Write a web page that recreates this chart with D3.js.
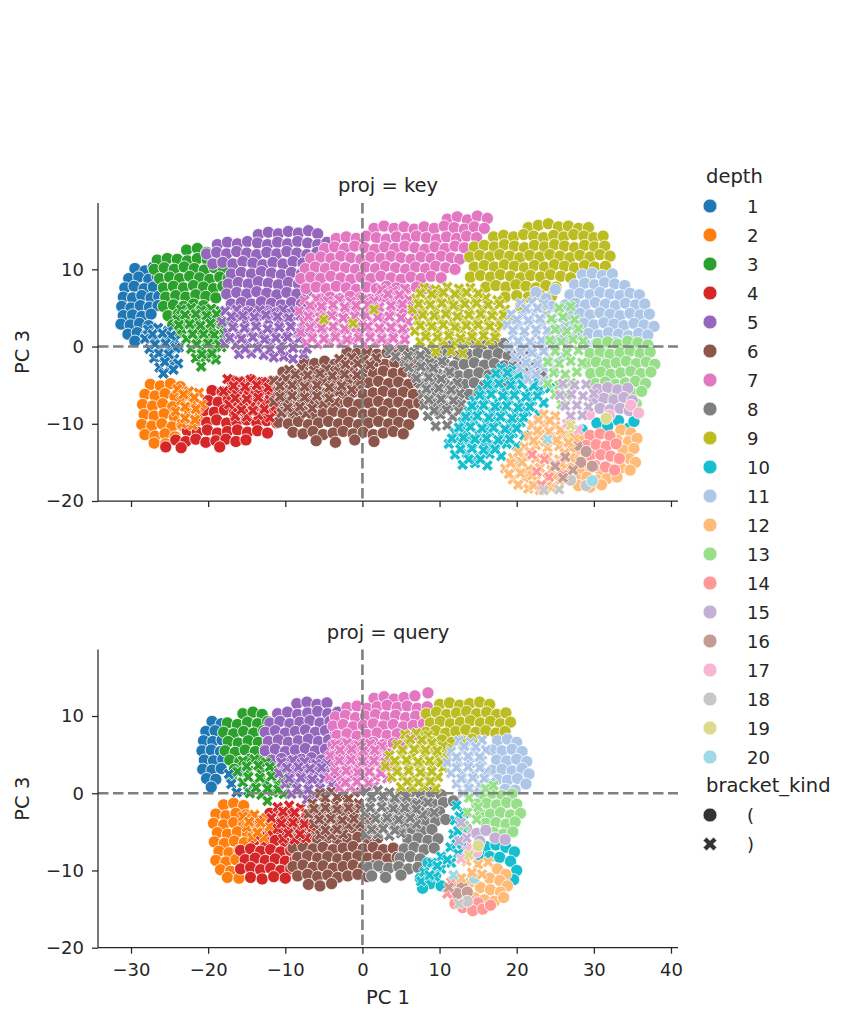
<!DOCTYPE html>
<html>
<head>
<meta charset="utf-8">
<script src="https://cdn.jsdelivr.net/npm/d3@7/dist/d3.min.js"></script>
<style>
body { margin: 0; background: #fff; }
text { font-family: "DejaVu Sans", sans-serif; fill: #262626; }
</style>
</head>
<body>
<svg id="chart" width="852" height="1022"></svg>
<script>
// categories
var depthLabels = ['1','2','3','4','5','6','7','8','9','10','11','12','13','14','15','16','17','18','19','20'];
var bracketKinds = ['(', ')'];
var palette = ['#1f77b4','#ff7f0e','#2ca02c','#d62728','#9467bd','#8c564b','#e377c2','#7f7f7f','#bcbd22','#17becf',
               '#aec7e8','#ffbb78','#98df8a','#ff9896','#c5b0d5','#c49c94','#f7b6d2','#c7c7c7','#dbdb8d','#9edae5'];
var xTicks = [-30, -20, -10, 0, 10, 20, 30, 40];
var yTicks = [-20, -10, 0, 10];

// points "PC1,PC3" per depth (index 0 = depth 1), bracket_kind "(" = open, ")" = close
var keyOpen = [
"-29.5,10.1 -28.2,9.8 -27.1,10.3 -30.3,8.8 -29.0,9.0 -27.7,8.7 -26.6,9.1 -30.8,7.6 -29.6,7.8 -28.3,7.5 -27.1,7.7 -31.0,6.4 -29.8,6.3 -28.6,6.6 -27.4,6.3 -26.4,6.5 -31.2,5.2 -30.0,5.0 -28.8,5.3 -27.6,5.1 -26.5,5.3 -31.0,4.0 -29.8,4.1 -28.6,3.9 -27.4,4.2 -31.3,2.9 -30.1,2.8 -28.9,3.0 -27.7,2.7 -30.4,1.6 -29.2,1.8 -28.0,1.5 -29.5,0.7",
"-27.5,-4.9 -26.2,-5.1 -24.9,-4.8 -23.6,-5.2 -28.2,-6.2 -26.9,-6.4 -25.6,-6.1 -24.3,-6.5 -23.0,-6.3 -28.5,-7.5 -27.2,-7.7 -25.9,-7.4 -24.6,-7.8 -28.3,-8.8 -27.0,-9.0 -25.7,-8.7 -24.4,-9.1 -28.6,-10.1 -27.3,-10.3 -26.0,-10.0 -24.7,-10.4 -23.4,-10.2 -28.2,-11.4 -26.9,-11.6 -25.6,-11.3 -24.3,-11.7 -27.0,-12.5 -25.5,-12.6",
"-22.8,12.5 -21.4,12.7 -20.2,12.2 -26.6,11.2 -25.3,11.4 -24.0,11.3 -22.7,11.1 -21.4,11.4 -20.1,11.2 -18.9,11.0 -27.0,10.0 -25.7,10.2 -24.4,10.0 -23.1,10.3 -21.8,10.1 -20.5,9.9 -19.2,10.2 -18.0,10.0 -26.3,8.8 -25.0,9.0 -23.7,8.8 -22.4,9.1 -21.1,8.9 -19.8,8.7 -18.5,9.0 -17.4,8.8 -25.8,7.6 -24.5,7.8 -23.2,7.6 -21.9,7.9 -20.6,7.7 -19.3,7.5 -18.1,7.8 -25.5,6.4 -24.2,6.6 -22.9,6.4 -21.6,6.7 -20.3,6.5 -19.0,6.3 -25.8,5.2 -24.5,5.4 -23.2,5.2 -21.9,5.5 -20.6,5.3 -25.2,4.0 -23.9,4.2 -22.6,4.0 -21.3,4.3 -24.6,2.8 -23.3,3.0 -22.0,2.7 -23.8,1.8",
"-17.0,-4.4 -15.7,-4.6 -14.4,-4.3 -13.1,-4.7 -11.8,-4.5 -19.5,-5.7 -18.2,-5.9 -16.9,-5.6 -15.6,-6.0 -14.3,-5.8 -13.0,-5.6 -11.7,-5.9 -10.5,-5.7 -20.0,-7.0 -18.7,-7.2 -17.4,-6.9 -16.1,-7.3 -14.8,-7.1 -13.5,-6.9 -12.2,-7.2 -10.9,-7.0 -20.5,-8.3 -19.2,-8.5 -17.9,-8.2 -16.6,-8.6 -15.3,-8.4 -14.0,-8.2 -12.7,-8.5 -11.4,-8.3 -10.2,-8.6 -21.5,-9.6 -20.2,-9.8 -18.9,-9.5 -17.6,-9.9 -16.3,-9.7 -15.0,-9.5 -13.7,-9.8 -12.4,-9.6 -11.1,-9.9 -22.7,-10.9 -21.4,-11.1 -20.1,-10.8 -18.8,-11.2 -17.5,-11.0 -16.2,-10.8 -14.9,-11.1 -13.6,-10.9 -12.3,-11.2 -24.2,-12.1 -22.9,-12.3 -21.6,-12.0 -20.3,-12.4 -19.0,-12.2 -17.7,-12.0 -16.4,-12.3 -15.1,-12.1 -25.5,-13.0 -23.5,-13.1 -18.5,-13.0",
"-13.5,14.5 -12.2,14.8 -10.9,14.6 -9.6,14.9 -8.3,14.7 -7.0,15.0 -5.8,14.6 -18.8,13.2 -17.5,13.5 -16.2,13.3 -14.9,13.6 -13.6,13.4 -12.3,13.2 -11.0,13.5 -9.7,13.3 -8.4,13.6 -7.1,13.4 -5.8,13.2 -4.6,13.5 -20.2,12.0 -18.9,12.2 -17.6,12.0 -16.3,12.3 -15.0,12.1 -13.7,11.9 -12.4,12.2 -11.1,12.0 -9.8,12.3 -8.5,12.1 -7.2,11.9 -5.9,12.2 -4.6,12.0 -19.4,10.7 -18.1,10.9 -16.8,10.7 -15.5,11.0 -14.2,10.8 -12.9,10.6 -11.6,10.9 -10.3,10.7 -9.0,11.0 -7.7,10.8 -6.4,10.6 -5.1,10.9 -17.0,9.4 -15.7,9.6 -14.4,9.4 -13.1,9.7 -11.8,9.5 -10.5,9.3 -9.2,9.6 -7.9,9.4 -6.6,9.7 -5.3,9.5 -17.4,8.1 -16.1,8.3 -14.8,8.1 -13.5,8.4 -12.2,8.2 -10.9,8.0 -9.6,8.3 -8.3,8.1 -7.0,8.4 -5.8,8.2 -17.6,6.8 -16.3,7.0 -15.0,6.8 -13.7,7.1 -12.4,6.9 -11.1,6.7 -9.8,7.0 -8.5,6.8 -7.2,7.1 -17.0,5.5 -15.7,5.7 -14.4,5.5 -13.1,5.8 -11.8,5.6 -10.5,5.4 -9.2,5.7 -7.9,5.5 -16.2,4.3 -14.9,4.5 -13.6,4.3 -12.3,4.6 -11.0,4.4 -9.7,4.2",
"-2.0,-0.7 -0.7,-0.9 0.6,-0.6 1.9,-1.0 3.2,-0.8 4.5,-0.6 5.8,-0.9 -7.5,-2.0 -6.2,-2.2 -4.9,-1.9 -3.6,-2.3 -2.3,-2.1 -1.0,-1.9 0.3,-2.2 1.6,-2.0 2.9,-2.3 4.2,-2.1 5.5,-1.9 6.8,-2.2 -10.3,-3.3 -9.0,-3.5 -7.7,-3.2 -6.4,-3.6 -5.1,-3.4 -3.8,-3.2 -2.5,-3.5 -1.2,-3.3 0.1,-3.6 1.4,-3.4 2.7,-3.2 4.0,-3.5 5.3,-3.3 6.6,-3.6 -10.9,-4.6 -9.6,-4.8 -8.3,-4.5 -7.0,-4.9 -5.7,-4.7 -4.4,-4.5 -3.1,-4.8 -1.8,-4.6 -0.5,-4.9 0.8,-4.7 2.1,-4.5 3.4,-4.8 4.7,-4.6 6.0,-4.9 7.3,-4.7 -10.3,-5.9 -9.0,-6.1 -7.7,-5.8 -6.4,-6.2 -5.1,-6.0 -3.8,-5.8 -2.5,-6.1 -1.2,-5.9 0.1,-6.2 1.4,-6.0 2.7,-5.8 4.0,-6.1 5.3,-5.9 6.6,-6.2 -10.9,-7.2 -9.6,-7.4 -8.3,-7.1 -7.0,-7.5 -5.7,-7.3 -4.4,-7.1 -3.1,-7.4 -1.8,-7.2 -0.5,-7.5 0.8,-7.3 2.1,-7.1 3.4,-7.4 4.7,-7.2 6.0,-7.5 7.3,-7.3 -10.3,-8.5 -9.0,-8.7 -7.7,-8.4 -6.4,-8.8 -5.1,-8.6 -3.8,-8.4 -2.5,-8.7 -1.2,-8.5 0.1,-8.8 1.4,-8.6 2.7,-8.4 4.0,-8.7 5.3,-8.5 6.6,-8.8 -10.9,-9.8 -9.6,-10.0 -8.3,-9.7 -7.0,-10.1 -5.7,-9.9 -4.4,-9.7 -3.1,-10.0 -1.8,-9.8 -0.5,-10.1 0.8,-9.9 2.1,-9.7 3.4,-10.0 4.7,-9.8 6.0,-10.1 -9.0,-11.1 -7.7,-11.3 -6.4,-11.0 -5.1,-11.4 -3.8,-11.2 -2.5,-11.0 -1.2,-11.3 0.1,-11.1 1.4,-11.4 2.7,-11.2 4.0,-11.0 5.3,-11.3 -6.0,-12.2 -3.5,-12.4 -1.0,-12.1 1.5,-12.3",
"11.0,16.5 12.3,16.8 13.6,16.4 14.9,16.9 16.2,16.6 1.5,15.3 2.8,15.6 4.1,15.3 5.4,15.5 6.7,15.2 8.0,15.5 9.3,15.3 10.6,15.6 11.9,15.4 13.2,15.2 14.5,15.5 15.8,15.3 -3.4,14.0 -2.1,14.2 -0.8,14.0 0.5,14.3 1.8,14.1 3.1,13.9 4.4,14.2 5.7,14.0 7.0,14.3 8.3,14.1 9.6,13.9 10.9,14.2 12.2,14.0 13.5,14.3 14.8,14.1 -4.9,12.7 -3.6,12.9 -2.3,12.7 -1.0,13.0 0.3,12.8 1.6,12.6 2.9,12.9 4.2,12.7 5.5,13.0 6.8,12.8 8.1,12.6 9.4,12.9 10.7,12.7 12.0,13.0 13.2,12.8 -6.7,11.4 -5.4,11.6 -4.1,11.4 -2.8,11.7 -1.5,11.5 -0.2,11.3 1.1,11.6 2.4,11.4 3.7,11.7 5.0,11.5 6.3,11.3 7.6,11.6 8.9,11.4 10.2,11.7 11.5,11.5 12.6,11.3 -7.4,10.1 -6.1,10.3 -4.8,10.1 -3.5,10.4 -2.2,10.2 -0.9,10.0 0.4,10.3 1.7,10.1 3.0,10.4 4.3,10.2 5.6,10.0 6.9,10.3 8.2,10.1 9.5,10.4 10.8,10.2 12.0,10.0 -8.0,8.8 -6.7,9.0 -5.4,8.8 -4.1,9.1 -2.8,8.9 -1.5,8.7 -0.2,9.0 1.1,8.8 2.4,9.1 3.7,8.9 5.0,8.7 6.3,9.0 7.6,8.8 8.9,9.1 10.2,8.9 -7.3,7.5 -6.0,7.7 -4.7,7.5 -3.4,7.8 -2.1,7.6 -0.8,7.4 0.5,7.7 1.8,7.5 3.1,7.8 4.4,7.6 5.7,7.4 7.0,7.7 8.3,7.5 -5.5,6.2 -4.2,6.4 -2.9,6.2 -1.6,6.5 -0.3,6.3 1.0,6.1 2.3,6.4 3.6,6.2 4.9,6.5 -6.5,5.0 -1.0,5.2 2.0,5.0 4.5,5.3",
"10.5,0.2 11.8,0.4 13.1,0.1 14.4,0.5 15.7,0.3 17.0,0.1 18.3,0.4 8.5,-0.9 9.8,-1.1 11.1,-0.8 12.4,-1.2 13.7,-1.0 15.0,-0.8 16.3,-1.1 17.6,-0.9 18.9,-1.2 20.2,-1.0 21.5,-0.8 8.0,-2.2 9.3,-2.4 10.6,-2.1 11.9,-2.5 13.2,-2.3 14.5,-2.1 15.8,-2.4 17.1,-2.2 18.4,-2.5 19.7,-2.3 21.0,-2.1 22.3,-2.4 8.6,-3.5 9.9,-3.7 11.2,-3.4 12.5,-3.8 13.8,-3.6 15.1,-3.4 16.4,-3.7 17.7,-3.5 19.0,-3.8 20.3,-3.6 21.6,-3.4 23.2,-3.7 8.0,-4.8 9.3,-5.0 10.6,-4.7 11.9,-5.1 13.2,-4.9 14.5,-4.7 15.8,-5.0 17.1,-4.8 18.4,-5.1 8.6,-6.1 9.9,-6.3 11.2,-6.0 12.5,-6.4 13.8,-6.2 15.1,-6.0 9.3,-7.4 10.6,-7.6 11.9,-7.3 10.0,-8.6",
"21.5,15.4 22.8,15.7 24.1,15.9 25.4,15.5 26.7,15.6 28.0,15.3 29.3,15.4 17.0,14.2 18.3,14.4 19.6,14.2 20.9,14.5 22.2,14.3 23.5,14.1 24.8,14.4 26.1,14.2 27.4,14.5 28.7,14.3 30.0,14.1 31.2,14.3 14.5,12.9 15.8,13.1 17.1,12.9 18.4,13.2 19.7,13.0 21.0,12.8 22.3,13.1 23.6,12.9 24.9,13.2 26.2,13.0 27.5,12.8 28.8,13.1 30.1,12.9 31.4,13.0 13.9,11.6 15.2,11.8 16.5,11.6 17.8,11.9 19.1,11.7 20.4,11.5 21.7,11.8 23.0,11.6 24.3,11.9 25.6,11.7 26.9,11.5 28.2,11.8 29.5,11.6 30.8,11.9 32.1,11.7 14.5,10.3 15.8,10.5 17.1,10.3 18.4,10.6 19.7,10.4 21.0,10.2 22.3,10.5 23.6,10.3 24.9,10.6 26.2,10.4 27.5,10.2 28.8,10.5 30.1,10.3 31.5,10.4 14.0,9.0 15.3,9.2 16.6,9.0 17.9,9.3 19.2,9.1 20.5,8.9 21.8,9.2 23.1,9.0 24.4,9.3 25.7,9.1 27.0,8.9 29.5,9.2 16.0,7.7 17.3,7.9 18.6,7.7 19.9,8.0 21.2,7.8 22.5,7.6 23.8,7.9 25.1,7.7 18.5,6.4 20.0,6.6 21.5,6.4 23.0,6.7 24.5,6.5 20.5,5.2 23.8,5.4",
"28.5,-10.8 30.4,-9.9 31.8,-10.3 33.2,-9.6 34.5,-10.6 35.2,-9.7 16.6,-13.0 20.0,-15.0 13.5,-12.0",
"28.5,9.3 29.8,9.5 31.1,9.2 32.4,9.4 27.5,8.0 28.8,8.2 30.1,8.0 31.4,8.3 32.7,8.1 34.0,7.9 26.9,6.7 28.2,6.9 29.5,6.7 30.8,7.0 32.1,6.8 33.4,6.6 34.7,6.9 35.9,6.7 26.3,5.4 27.6,5.6 28.9,5.4 30.2,5.7 31.5,5.5 32.8,5.3 34.1,5.6 35.4,5.4 36.6,5.5 26.9,4.1 28.2,4.3 29.5,4.1 30.8,4.4 32.1,4.2 33.4,4.0 34.7,4.3 36.0,4.1 37.2,4.2 27.4,2.8 28.7,3.0 30.0,2.8 31.3,3.1 32.6,2.9 33.9,2.7 35.2,3.0 36.5,2.8 37.8,2.6 28.0,1.5 29.3,1.7 30.6,1.5 31.9,1.8 33.2,1.6 34.5,1.4 35.8,1.7 37.0,1.5 29.0,0.2 30.3,0.4 31.6,0.2 32.9,0.5 34.2,0.3 35.5,0.1 29.8,-1.1 31.1,-0.9 32.4,-1.2 33.7,-1.0 30.5,-2.4 32.0,-2.2 22.5,7.0 23.8,6.2 25.0,7.4 24.5,5.2",
"33.5,-10.8 34.8,-11.2 28.5,-12.0 33.0,-12.1 34.5,-12.3 35.6,-11.9 28.0,-13.3 29.3,-13.5 33.8,-13.4 35.2,-13.2 27.5,-14.6 28.8,-14.8 33.2,-14.7 34.6,-14.5 35.4,-15.0 27.0,-15.8 28.3,-16.0 29.6,-15.7 30.9,-16.1 32.2,-15.9 33.5,-15.7 34.7,-16.0 26.5,-17.0 27.8,-17.2 29.1,-16.9 30.4,-17.3 31.7,-17.1 33.0,-16.9 28.0,-18.0 29.5,-18.2 31.0,-17.9",
"30.5,0.4 31.8,0.6 33.1,0.3 34.4,0.7 35.7,0.5 37.0,0.2 29.5,-0.9 30.8,-0.7 32.1,-1.0 33.4,-0.8 34.7,-0.6 36.0,-0.9 37.3,-0.7 29.0,-2.2 30.3,-2.0 31.6,-2.3 32.9,-2.1 34.2,-1.9 35.5,-2.2 36.8,-2.0 37.9,-2.3 29.6,-3.5 30.9,-3.3 32.2,-3.6 33.5,-3.4 34.8,-3.2 36.1,-3.5 37.4,-3.3 30.2,-4.8 31.5,-4.6 32.8,-4.9 34.1,-4.7 35.4,-4.5 36.7,-4.8 31.0,-6.1 32.3,-5.9 33.6,-6.2 34.9,-6.0 36.2,-5.8 32.5,-7.3 34.0,-7.1 35.5,-7.4",
"29.5,-11.5 30.8,-11.3 32.1,-11.6 29.0,-12.8 30.3,-12.7 31.6,-12.9 32.9,-12.6 29.6,-14.1 30.9,-14.0 32.2,-14.2 33.3,-14.5 30.2,-15.4 31.5,-15.6 32.7,-16.0",
"30.5,-5.5 31.8,-5.3 33.1,-5.6 34.4,-5.4 30.0,-6.8 31.3,-6.7 32.6,-6.9 33.9,-6.6 35.0,-7.0 30.8,-8.0 32.1,-8.2 33.4,-8.0 34.6,-8.3",
"27.8,-12.8 29.0,-13.6 28.3,-15.0 29.8,-15.5",
"34.8,-7.6 35.8,-8.6 29.4,-8.8 32.0,-8.9",
"27.0,-17.3 29.0,-18.0",
"31.6,-9.3 27.0,-11.5",
"29.8,-17.4"
];

var keyClose = [
"-27.8,2.2 -26.5,2.4 -25.2,2.0 -28.2,1.0 -26.9,0.9 -25.6,1.1 -24.3,0.8 -27.6,-0.3 -26.3,-0.2 -25.0,-0.4 -23.8,-0.1 -27.0,-1.5 -25.7,-1.4 -24.4,-1.6 -26.3,-2.7 -25.0,-2.6 -23.9,-2.2 -25.8,-3.5 -27.2,1.6 -25.9,1.7 -24.8,1.4 -26.9,0.3 -25.5,0.4 -24.2,-0.2 -26.4,-0.9 -25.1,-1.0 -25.6,-2.0 -24.5,-3.0",
"-24.0,-5.5 -22.5,-5.8 -21.2,-6.0 -23.5,-7.0 -22.0,-7.3 -20.8,-7.5 -24.2,-8.4 -22.7,-8.6 -21.3,-8.8 -23.4,-10.0 -22.0,-10.2 -23.2,-6.2 -21.8,-6.6 -23.0,-7.8 -21.6,-8.1 -23.0,-9.3 -21.7,-9.5",
"-23.5,4.8 -22.2,5.0 -20.9,4.7 -19.6,4.9 -18.4,4.6 -24.0,3.5 -22.7,3.6 -21.4,3.4 -20.1,3.7 -18.8,3.5 -17.6,3.3 -23.4,2.2 -22.1,2.3 -20.8,2.1 -19.5,2.4 -18.2,2.2 -22.8,1.0 -21.5,0.9 -20.2,1.1 -18.9,0.8 -17.7,1.0 -22.2,-0.3 -20.9,-0.2 -19.6,-0.4 -18.3,-0.1 -21.6,-1.5 -20.3,-1.4 -19.0,-1.7 -20.9,-2.6 -23.0,4.1 -21.6,4.2 -20.2,4.0 -18.9,4.2 -23.8,2.8 -22.4,2.9 -21.0,2.7 -19.7,3.0 -18.3,2.9 -22.0,1.6 -20.6,1.6 -19.2,1.5 -17.9,1.7 -21.5,0.3 -20.0,0.4 -18.6,0.3 -20.8,-1.0 -19.5,-0.9",
"-17.5,-4.2 -16.0,-4.5 -14.5,-4.3 -13.0,-4.6 -11.5,-4.4 -18.0,-5.8 -16.5,-6.0 -15.0,-5.9 -13.5,-6.1 -12.0,-5.8 -10.7,-6.2 -17.3,-7.5 -15.8,-7.4 -14.3,-7.6 -12.8,-7.3 -11.3,-7.7 -16.5,-9.0 -15.0,-9.1 -13.5,-8.9 -12.0,-9.2 -16.7,-5.1 -15.2,-5.2 -13.7,-5.0 -12.2,-5.3 -16.5,-6.7 -15.0,-6.8 -13.5,-6.6 -12.0,-6.9 -15.7,-8.2 -14.2,-8.3 -12.7,-8.1",
"-17.8,4.6 -16.3,4.8 -14.8,4.5 -13.3,4.7 -11.8,4.4 -10.3,4.8 -8.8,4.6 -7.3,4.5 -18.2,3.2 -16.7,3.0 -15.2,3.3 -13.7,3.1 -12.2,3.4 -10.7,3.0 -9.2,3.2 -7.7,3.3 -6.4,3.0 -17.5,1.8 -16.0,1.6 -14.5,1.9 -13.0,1.7 -11.5,2.0 -10.0,1.6 -8.5,1.8 -7.0,1.9 -17.9,0.4 -16.4,0.2 -14.9,0.5 -13.4,0.3 -11.9,0.6 -10.4,0.2 -8.9,0.4 -7.4,0.5 -16.0,-1.0 -14.4,-0.9 -12.8,-1.1 -10.2,-1.3 -9.0,-1.6 -7.6,-1.0 -17.0,3.9 -15.5,4.0 -14.0,3.8 -12.5,4.1 -11.0,3.9 -9.5,3.7 -8.0,4.0 -6.8,3.8 -16.8,2.5 -15.3,2.4 -13.8,2.6 -12.3,2.3 -10.8,2.5 -9.3,2.6 -7.8,2.4 -17.2,1.1 -15.7,1.0 -14.2,1.2 -12.7,0.9 -11.2,1.1 -9.7,1.2 -8.2,1.0 -15.2,-0.3 -13.6,-0.2 -12.0,-0.4 -10.6,-0.5 -9.0,-0.2 -7.2,-0.3 -11.5,-1.4",
"-3.0,-1.6 -1.4,-1.4 0.2,-1.7 1.8,-1.5 -9.5,-3.0 -7.9,-2.8 -6.3,-3.1 -4.7,-2.9 -3.1,-3.2 -1.5,-3.0 0.1,-2.8 -11.5,-4.4 -9.9,-4.2 -8.3,-4.5 -6.7,-4.3 -5.1,-4.6 -3.5,-4.4 -1.9,-4.2 -0.3,-4.5 -11.0,-5.8 -9.4,-5.6 -7.8,-5.9 -6.2,-5.7 -4.6,-6.0 -3.0,-5.8 -1.4,-5.6 -11.5,-7.2 -9.9,-7.0 -8.3,-7.3 -6.7,-7.1 -5.1,-7.4 -3.5,-7.2 -10.5,-8.6 -8.9,-8.4 -7.3,-8.7 -8.7,-3.6 -7.1,-3.7 -5.5,-3.5 -3.9,-3.8 -2.3,-3.6 -0.7,-3.7 -10.7,-5.1 -9.1,-5.0 -7.5,-5.2 -5.9,-5.0 -4.3,-5.3 -2.7,-5.1 -10.7,-6.5 -9.1,-6.4 -7.5,-6.6 -5.9,-6.4 -4.3,-6.7 -9.7,-7.9 -8.1,-7.8 -6.5,-8.0 -2.2,-2.3 -0.6,-2.2 1.0,-2.4",
"2.5,7.4 4.0,7.2 5.5,7.5 -7.5,6.0 -6.0,6.2 -4.5,5.9 -3.0,6.1 -1.5,5.8 0.0,6.1 1.5,5.9 3.0,6.2 4.5,5.9 6.0,6.1 -8.2,4.6 -6.7,4.4 -5.2,4.7 -3.7,4.5 -2.2,4.8 -0.7,4.5 0.8,4.7 2.3,4.4 3.8,4.6 5.3,4.8 6.8,4.5 -7.6,3.2 -6.1,3.0 -4.6,3.3 -3.1,3.1 -1.6,3.4 -0.1,3.0 1.4,3.2 2.9,3.3 4.4,3.0 5.9,3.2 -8.0,1.8 -6.5,1.6 -5.0,1.9 -3.5,1.7 -2.0,2.0 -0.5,1.6 1.0,1.8 2.5,1.9 4.0,1.6 5.5,1.8 -7.3,0.5 -5.8,0.3 -4.3,0.6 -2.8,0.4 -1.3,0.7 0.2,0.3 1.7,0.5 3.2,0.6 4.7,0.3 -6.8,5.3 -5.3,5.2 -3.8,5.4 -2.3,5.1 -0.8,5.3 0.7,5.4 2.2,5.1 3.7,5.3 5.2,5.5 6.5,5.2 -7.0,3.9 -5.5,3.8 -4.0,4.0 -2.5,3.7 -1.0,3.9 0.5,4.0 2.0,3.8 3.5,3.9 5.0,3.7 -6.8,2.5 -5.3,2.4 -3.8,2.6 -2.3,2.3 -0.8,2.5 0.7,2.6 2.2,2.4 3.7,2.5 5.2,2.3 -6.5,1.1 -5.0,1.0 -3.5,1.2 -2.0,0.9 -0.5,1.1 1.0,1.2 2.5,1.0 4.0,1.1 5.5,0.9 3.3,6.8 4.8,6.7",
"3.5,-0.6 5.1,-0.4 6.7,-0.7 8.3,-0.5 5.5,-2.0 7.1,-1.8 8.7,-2.1 10.3,-1.9 6.5,-3.4 8.1,-3.2 9.7,-3.5 11.3,-3.3 7.5,-4.8 9.1,-4.6 10.7,-4.9 12.3,-4.7 7.8,-6.2 9.4,-6.0 11.0,-6.3 12.6,-6.1 8.0,-7.6 9.6,-7.4 11.2,-7.7 12.8,-7.5 8.5,-9.0 10.1,-8.8 11.7,-9.1 13.3,-8.9 9.5,-10.3 11.0,-10.2 4.3,-1.3 5.9,-1.2 7.5,-1.1 6.0,-2.7 7.6,-2.6 9.2,-2.8 7.0,-4.1 8.6,-4.0 10.2,-4.2 8.3,-5.5 9.9,-5.4 11.5,-5.6 8.6,-6.9 10.2,-6.8 11.8,-7.0 9.3,-8.3 10.9,-8.2 12.5,-8.4",
"8.0,7.6 9.5,7.4 11.0,7.7 12.5,7.5 14.0,7.6 7.0,6.2 8.5,6.0 10.0,6.3 11.5,6.1 13.0,6.4 14.5,6.1 16.0,6.3 17.5,6.0 6.5,4.8 8.0,4.6 9.5,4.9 11.0,4.7 12.5,5.0 14.0,4.7 15.5,4.9 17.0,4.6 18.5,4.8 7.2,3.4 8.7,3.2 10.2,3.5 11.7,3.3 13.2,3.6 14.7,3.3 16.2,3.5 17.7,3.2 19.2,3.4 6.8,2.0 8.3,1.8 9.8,2.1 11.3,1.9 12.8,2.2 14.3,1.9 15.8,2.1 17.3,1.8 7.5,0.6 9.0,0.4 10.5,0.7 12.0,0.5 13.5,0.8 15.0,0.5 16.5,0.7 9.5,-0.7 11.5,-0.6 13.0,-0.9 -5.0,3.5 -1.2,3.0 1.5,4.8 7.5,6.9 9.0,6.8 10.5,7.0 12.0,6.8 13.5,7.0 15.0,6.9 7.3,5.5 8.8,5.4 10.3,5.6 11.8,5.3 13.3,5.5 14.8,5.6 16.3,5.4 17.8,5.5 7.8,4.1 9.3,4.0 10.8,4.2 12.3,3.9 13.8,4.1 15.3,4.2 16.8,4.0 18.3,4.1 7.5,2.7 9.0,2.6 10.5,2.8 12.0,2.5 13.5,2.7 15.0,2.8 16.5,2.6 18.0,2.7 8.2,1.3 9.7,1.2 11.2,1.4 12.7,1.1 14.2,1.3 15.7,1.4 17.2,1.2",
"18.0,-2.8 19.5,-3.0 16.5,-4.2 18.0,-4.0 19.5,-4.3 21.0,-4.1 22.5,-4.4 15.5,-5.6 17.0,-5.4 18.5,-5.7 20.0,-5.5 21.5,-5.8 23.0,-5.6 24.3,-5.4 14.5,-7.0 16.0,-6.8 17.5,-7.1 19.0,-6.9 20.5,-7.2 22.0,-7.0 23.5,-7.3 13.8,-8.4 15.3,-8.2 16.8,-8.5 18.3,-8.3 19.8,-8.6 21.3,-8.4 22.8,-8.7 13.0,-9.8 14.5,-9.6 16.0,-9.9 17.5,-9.7 19.0,-10.0 20.5,-9.8 22.0,-10.1 12.0,-11.2 13.5,-11.0 15.0,-11.3 16.5,-11.1 18.0,-11.4 19.5,-11.2 21.0,-11.5 11.2,-12.6 12.7,-12.4 14.2,-12.7 15.7,-12.5 17.2,-12.8 18.7,-12.6 20.0,-12.9 12.0,-14.0 13.5,-13.8 15.0,-14.1 16.5,-13.9 18.0,-14.2 13.0,-15.3 14.6,-15.1 16.2,-15.4 17.3,-3.5 18.8,-3.4 20.3,-3.6 16.2,-4.9 17.7,-4.8 19.2,-5.0 20.7,-4.9 22.2,-5.1 15.2,-6.3 16.7,-6.2 18.2,-6.4 19.7,-6.3 21.2,-6.5 22.7,-6.4 14.2,-7.7 15.7,-7.6 17.2,-7.8 18.7,-7.7 20.2,-7.9 21.7,-7.8 13.4,-9.1 14.9,-9.0 16.4,-9.2 17.9,-9.1 19.4,-9.3 20.9,-9.2 12.5,-10.5 14.0,-10.4 15.5,-10.6 17.0,-10.5 18.5,-10.7 20.0,-10.6 11.6,-11.9 13.1,-11.8 14.6,-12.0 16.1,-11.9 17.6,-12.1 19.1,-12.0 12.7,-13.3 14.2,-13.2 15.7,-13.4 17.2,-13.3 13.8,-14.6 15.3,-14.6",
"20.5,5.6 22.0,5.8 23.5,5.5 19.3,4.2 20.8,4.0 22.3,4.3 23.8,4.1 25.3,4.4 18.8,2.8 20.3,2.6 21.8,2.9 23.3,2.7 24.8,3.0 26.3,2.7 19.5,1.4 21.0,1.2 22.5,1.5 24.0,1.3 25.5,1.6 27.0,1.3 19.0,0.0 20.5,-0.2 22.0,0.1 23.5,-0.1 25.0,0.2 26.5,-0.1 19.8,-1.4 21.3,-1.6 22.8,-1.3 24.3,-1.5 25.8,-1.2 20.5,-2.8 22.0,-3.0 23.5,-2.7 25.0,-2.9 21.5,-4.2 23.5,-4.4 21.2,4.9 22.7,5.0 20.0,3.5 21.5,3.4 23.0,3.6 24.5,3.5 19.5,2.1 21.0,2.0 22.5,2.2 24.0,2.1 25.5,2.3 20.2,0.7 21.7,0.6 23.2,0.8 24.7,0.7 26.2,0.9 20.5,-0.7 22.0,-0.8 23.5,-0.6 25.0,-0.7 21.2,-2.1 22.7,-2.2 24.2,-2.0 22.5,-3.6",
"23.5,-8.8 25.0,-9.0 22.0,-10.2 23.5,-10.0 25.0,-10.3 26.5,-10.1 21.5,-11.6 23.0,-11.4 24.5,-11.7 26.0,-11.5 27.5,-11.8 21.0,-13.0 22.5,-12.8 24.0,-13.1 25.5,-12.9 27.0,-13.2 19.5,-14.4 21.0,-14.2 22.5,-14.5 24.0,-14.3 25.5,-14.6 27.0,-14.4 18.5,-15.8 20.0,-15.6 21.5,-15.9 23.0,-15.7 24.5,-16.0 26.0,-15.8 19.5,-17.2 21.0,-17.0 22.5,-17.3 24.0,-17.1 25.5,-17.4 21.5,-18.4 23.0,-18.6 24.5,-18.3 22.8,-9.5 24.3,-9.6 22.7,-10.9 24.2,-11.0 25.7,-10.8 22.2,-12.2 23.7,-12.3 25.2,-12.1 26.7,-12.4 20.2,-13.7 21.7,-13.6 26.2,-13.8 19.2,-15.1 20.7,-15.0 25.8,-15.2 19.0,-16.5 20.5,-16.4 22.0,-16.7 25.0,-16.8 20.2,-17.9 22.2,-18.0 24.0,-18.0",
"25.5,5.0 27.0,5.2 24.5,3.6 26.0,3.8 27.5,3.5 25.0,2.2 26.5,2.0 28.0,2.3 24.3,0.8 25.8,0.6 27.3,0.9 28.6,0.7 25.0,-0.6 26.5,-0.8 28.0,-0.5 24.0,-2.0 25.5,-2.2 27.0,-1.9 28.5,-2.1 24.8,-3.4 26.3,-3.6 27.8,-3.3 24.0,-4.8 25.5,-5.0 27.0,-4.7 25.0,-6.2 26.5,-6.4 25.8,-7.5",
"22.0,-14.0 23.6,-14.6 25.0,-15.3 22.6,-16.2 24.2,-16.9 26.0,-16.6 23.2,-17.9",
"26.0,-4.8 27.5,-5.0 29.0,-4.9 25.6,-6.3 27.1,-6.2 28.6,-6.4 30.0,-6.1 26.3,-7.7 27.8,-7.6 29.3,-7.8 27.0,-9.0 28.5,-8.9",
"25.0,-15.5 26.3,-14.3 26.0,-17.0 27.3,-16.0",
"26.5,-10.0 28.0,-10.8",
"23.5,-18.6 25.5,-18.5",
"27.0,-10.2",
"24.0,-12.0"
];

var queryOpen = [
"-19.5,9.3 -18.3,9.0 -20.3,8.0 -19.1,8.1 -17.9,7.8 -20.6,6.8 -19.4,6.7 -18.2,6.9 -20.8,5.5 -19.6,5.6 -18.4,5.4 -20.5,4.3 -19.3,4.2 -18.1,4.4 -20.7,3.1 -19.5,3.0 -18.3,3.2 -20.2,1.9 -19.0,1.8 -19.6,0.8",
"-18.0,-1.5 -16.7,-1.3 -15.4,-1.6 -19.0,-2.7 -17.7,-2.9 -16.4,-2.6 -15.1,-2.8 -19.3,-3.9 -18.0,-4.1 -16.7,-3.8 -15.4,-4.0 -14.2,-3.8 -18.8,-5.1 -17.5,-5.3 -16.2,-5.0 -14.9,-5.2 -19.2,-6.3 -17.9,-6.5 -16.6,-6.2 -15.3,-6.4 -14.0,-6.2 -18.6,-7.5 -17.3,-7.7 -16.0,-7.4 -14.7,-7.6 -19.0,-8.7 -17.7,-8.9 -16.4,-8.6 -15.1,-8.8 -13.8,-8.6 -18.4,-9.9 -17.1,-10.1 -15.8,-9.8 -14.5,-10.0 -17.5,-10.9 -16.0,-11.0",
"-15.5,10.3 -14.2,10.5 -13.0,10.2 -17.5,9.1 -16.2,8.9 -14.9,9.2 -13.6,9.0 -12.3,9.3 -18.0,7.9 -16.7,7.7 -15.4,8.0 -14.1,7.8 -12.8,8.1 -11.6,7.9 -17.4,6.7 -16.1,6.5 -14.8,6.8 -13.5,6.6 -12.2,6.9 -17.8,5.5 -16.5,5.3 -15.2,5.6 -13.9,5.4 -12.6,5.7 -11.3,5.5 -17.2,4.3 -15.9,4.1 -14.6,4.4 -13.3,4.2 -16.6,3.1 -15.3,2.9 -17.0,2.0",
"-12.0,-2.6 -10.7,-2.4 -9.4,-2.7 -13.2,-3.6 -11.9,-3.9 -10.6,-3.7 -9.3,-4.0 -8.0,-3.8 -6.8,-3.6 -13.2,-5.1 -11.9,-4.9 -10.6,-5.2 -9.3,-5.0 -8.0,-4.8 -6.7,-5.1 -13.9,-6.0 -12.6,-6.3 -11.3,-6.1 -10.0,-6.4 -8.7,-6.2 -7.4,-6.0 -6.1,-6.3 -15.8,-7.4 -14.5,-7.2 -13.2,-7.5 -11.9,-7.3 -10.6,-7.6 -9.3,-7.4 -8.0,-7.2 -6.7,-7.5 -15.2,-8.6 -13.9,-8.4 -12.6,-8.7 -11.3,-8.5 -10.0,-8.8 -8.7,-8.6 -7.4,-8.4 -15.8,-9.8 -14.5,-9.6 -13.2,-9.9 -11.9,-9.7 -10.6,-10.0 -9.3,-9.8 -8.0,-9.6 -14.5,-10.9 -13.0,-11.1 -11.5,-10.8 -10.0,-11.0",
"-8.5,11.6 -7.2,11.8 -5.9,11.5 -4.6,11.7 -11.0,10.3 -9.7,10.5 -8.4,10.2 -7.1,10.4 -5.8,10.6 -4.5,10.3 -3.2,10.5 -12.0,9.1 -10.7,9.3 -9.4,9.0 -8.1,9.2 -6.8,9.4 -5.5,9.1 -4.2,9.3 -12.6,7.9 -11.3,8.1 -10.0,7.8 -8.7,8.0 -7.4,8.2 -6.1,7.9 -4.8,8.1 -3.5,7.8 -12.2,6.7 -10.9,6.9 -9.6,6.6 -8.3,6.8 -7.0,7.0 -5.7,6.7 -4.4,6.9 -12.6,5.5 -11.3,5.7 -10.0,5.4 -8.7,5.6 -7.4,5.8 -6.1,5.5 -4.8,5.7 -3.5,5.4 -11.8,4.3 -10.5,4.5 -9.2,4.2 -7.9,4.4 -6.6,4.6 -5.3,4.3 -11.2,3.1 -9.9,3.3 -8.6,3.0 -7.3,3.2 -5.0,3.0 -10.0,1.9 -7.5,2.1",
"-6.0,-2.3 -4.7,-2.1 -3.4,-2.4 -2.1,-2.2 -0.8,-2.0 -8.5,-3.5 -7.2,-3.3 -5.9,-3.6 -4.6,-3.4 -3.3,-3.7 -2.0,-3.5 -0.7,-3.3 0.6,-3.6 -9.0,-4.7 -7.7,-4.5 -6.4,-4.8 -5.1,-4.6 -3.8,-4.9 -2.5,-4.7 -1.2,-4.5 0.1,-4.8 1.4,-4.6 -8.4,-5.9 -7.1,-5.7 -5.8,-6.0 -4.5,-5.8 -3.2,-6.1 -1.9,-5.9 -0.6,-5.7 0.7,-6.0 2.0,-5.8 -9.0,-7.1 -7.7,-6.9 -6.4,-7.2 -5.1,-7.0 -3.8,-7.3 -2.5,-7.1 -1.2,-6.9 0.1,-7.2 1.4,-7.0 2.7,-7.3 4.0,-7.1 -8.4,-8.3 -7.1,-8.1 -5.8,-8.4 -4.5,-8.2 -3.2,-8.5 -1.9,-8.3 -0.6,-8.1 0.7,-8.4 2.0,-8.2 3.3,-8.5 4.5,-8.3 -9.0,-9.5 -7.7,-9.3 -6.4,-9.6 -5.1,-9.4 -3.8,-9.7 -2.5,-9.5 -1.2,-9.3 0.1,-9.6 1.4,-9.4 2.7,-9.7 -8.4,-10.7 -7.1,-10.5 -5.8,-10.8 -4.5,-10.6 -3.2,-10.9 -1.9,-10.7 -0.6,-10.5 0.7,-10.8 -7.0,-11.8 -5.5,-12.0 -4.0,-11.7",
"1.5,12.3 2.8,12.5 4.1,12.2 5.4,12.4 6.8,12.6 8.5,13.0 -2.0,11.1 -0.7,11.3 0.6,11.0 1.9,11.2 3.2,11.4 4.5,11.1 5.8,11.3 7.1,11.0 8.4,11.2 -3.5,9.9 -2.2,10.1 -0.9,9.8 0.4,10.0 1.7,10.2 3.0,9.9 4.3,10.1 5.6,9.8 6.9,10.0 8.2,10.2 -3.8,8.7 -2.5,8.9 -1.2,8.6 0.1,8.8 1.4,9.0 2.7,8.7 4.0,8.9 5.3,8.6 6.6,8.8 7.9,9.0 -3.3,7.5 -2.0,7.7 -0.7,7.4 0.6,7.6 1.9,7.8 3.2,7.5 4.5,7.7 5.8,7.4 7.0,7.6 -3.8,6.3 -2.5,6.5 -1.2,6.2 0.1,6.4 1.4,6.6 2.7,6.3 4.0,6.5 5.3,6.2 -3.2,5.1 -1.9,5.3 -0.6,5.0 0.7,5.2 2.0,5.4 3.3,5.1 -3.6,3.9 -2.3,4.1 -1.0,3.8 0.3,4.0 1.6,4.2 -3.0,2.7 -1.7,2.9 -0.4,2.6 -2.5,1.5",
"5.0,0.0 6.3,0.2 7.6,-0.1 8.9,0.1 10.2,-0.2 4.0,-1.2 5.3,-1.0 6.6,-1.3 7.9,-1.1 9.2,-1.4 10.5,-1.2 11.8,-1.0 3.5,-2.4 4.8,-2.2 6.1,-2.5 7.4,-2.3 8.7,-2.6 10.0,-2.4 3.0,-3.6 4.3,-3.4 5.6,-3.7 6.9,-3.5 8.2,-3.8 9.5,-3.6 10.8,-3.4 5.1,-4.8 6.4,-4.6 7.7,-4.9 9.0,-4.7 5.9,-6.0 7.2,-5.8 8.5,-6.1 9.8,-5.9 5.4,-7.2 6.7,-7.0 8.0,-7.3 9.3,-7.1 4.9,-8.4 6.2,-8.2 7.5,-8.5 0.8,-9.6 2.1,-9.4 3.4,-9.7 4.7,-9.5 6.0,-9.8 7.2,-9.6 1.2,-10.7 3.0,-10.9 5.0,-10.6",
"10.0,11.5 11.3,11.7 12.6,11.4 13.9,11.6 15.2,11.8 16.5,11.5 8.3,10.3 9.6,10.5 10.9,10.2 12.2,10.4 13.5,10.6 14.8,10.3 16.1,10.5 17.4,10.2 18.6,10.4 8.8,9.1 10.1,9.3 11.4,9.0 12.7,9.2 14.0,9.4 15.3,9.1 16.6,9.3 17.9,9.0 19.2,9.2 8.2,7.9 9.5,8.1 10.8,7.8 12.1,8.0 13.4,8.2 14.7,7.9 16.0,8.1 17.3,7.8 18.5,8.0 9.0,6.7 10.3,6.9 11.6,6.6 12.9,6.8 14.2,7.0 9.5,5.5 11.0,5.7 10.0,4.2",
"16.0,-6.9 17.3,-6.7 18.6,-7.0 19.7,-7.6 15.2,-8.0 16.5,-8.2 17.8,-8.3 19.2,-8.8 20.0,-10.0 19.6,-11.2 7.5,-11.0 8.8,-11.7 10.2,-12.0 7.8,-12.3 9.5,-10.6 8.5,-9.0",
"17.5,6.8 18.8,7.0 20.0,6.6 16.8,5.6 18.1,5.5 19.4,5.7 20.7,5.4 17.4,4.3 18.7,4.2 20.0,4.4 21.3,4.1 16.8,3.0 18.1,3.1 19.4,2.9 20.7,3.2 21.6,2.5 17.5,1.8 18.8,1.7 20.1,1.9 21.2,1.2 18.5,0.5 19.8,0.4",
"17.5,-9.8 18.6,-10.5 16.5,-11.0 17.8,-11.3 18.8,-12.0 14.0,-11.5 15.3,-12.2 16.6,-12.5 17.9,-12.8 14.5,-13.5 15.8,-13.8 17.1,-14.0 18.3,-13.5",
"15.5,-0.2 16.8,0.0 18.1,-0.3 19.4,-0.1 14.8,-1.4 16.1,-1.3 17.4,-1.5 18.7,-1.2 20.0,-1.4 15.3,-2.6 16.6,-2.7 17.9,-2.5 19.2,-2.8 20.5,-2.6 16.0,-3.9 17.3,-3.8 18.6,-4.0 19.8,-3.7 17.0,-5.1 18.3,-5.3 19.5,-5.0",
"12.0,-12.0 13.2,-12.3 12.5,-13.5 13.8,-13.8 15.0,-14.2 13.0,-14.8 14.3,-15.2 15.6,-15.0 16.6,-14.5 12.0,-14.3",
"13.5,-4.5 14.8,-5.2 16.0,-4.8 17.2,-5.8 15.2,-6.2 18.5,-6.0",
"11.8,-11.3 12.9,-12.0 12.3,-13.0 13.6,-12.8",
"13.5,-7.0 14.8,-7.6 13.0,-8.2",
"13.6,-14.0",
"15.0,-6.8",
"14.5,-11.0"
];

var queryClose = [
"-17.3,2.5 -16.0,2.8 -17.0,1.2 -15.6,1.4 -16.3,0.1 -14.8,0.3",
"-15.5,-3.0 -14.0,-2.8 -12.5,-3.2 -15.0,-4.4 -13.5,-4.5 -12.0,-4.3 -14.3,-5.7 -12.8,-5.8 -14.7,-3.7 -13.2,-3.8 -13.6,-5.1",
"-15.5,4.2 -14.0,4.4 -12.5,4.0 -16.2,2.8 -14.7,2.9 -13.2,2.6 -11.7,2.9 -10.3,2.5 -15.5,1.4 -14.0,1.3 -12.5,1.5 -11.0,1.2 -9.6,1.4 -14.6,0.0 -13.1,-0.2 -11.6,0.1 -10.2,-0.1 -12.3,-1.0 -15.0,3.5 -13.5,3.6 -12.0,3.4 -14.8,2.1 -13.3,2.0 -11.8,2.2 -10.4,1.9 -13.8,0.7 -12.3,0.6 -10.9,0.5",
"-11.0,-1.8 -9.5,-1.6 -8.0,-1.9 -6.5,-2.2 -11.8,-3.2 -10.3,-3.0 -8.8,-3.3 -7.3,-3.1 -5.8,-3.4 -11.0,-4.6 -9.5,-4.5 -8.0,-4.7 -6.5,-4.4 -10.3,-5.9 -8.8,-6.0 -7.3,-5.8 -10.3,-2.4 -8.8,-2.5 -7.3,-2.6 -10.5,-3.9 -9.0,-3.8 -7.5,-4.0 -9.6,-5.2 -8.1,-5.3",
"-10.5,4.0 -9.0,4.3 -7.5,4.1 -6.0,3.8 -4.5,4.0 -10.8,2.6 -9.3,2.7 -7.8,2.5 -6.3,2.8 -4.8,2.6 -3.4,2.4 -10.0,1.2 -8.5,1.3 -7.0,1.1 -5.5,1.4 -4.0,1.2 -9.2,-0.1 -7.7,0.0 -6.2,-0.2 -4.7,0.1 -7.2,-0.8 -9.8,3.3 -8.3,3.4 -6.8,3.2 -5.3,3.3 -9.5,1.9 -8.0,2.0 -6.5,1.8 -5.0,1.9 -8.5,0.6 -7.0,0.5 -5.5,0.6",
"-5.5,0.0 -4.0,0.2 -2.5,-0.1 -1.0,0.1 -6.5,-1.3 -5.0,-1.2 -3.5,-1.4 -2.0,-1.1 -0.5,-1.3 -7.0,-2.7 -5.5,-2.6 -4.0,-2.8 -2.5,-2.5 -1.0,-2.7 0.5,-2.4 -6.3,-4.0 -4.8,-4.1 -3.3,-3.9 -1.8,-4.2 -0.3,-4.0 -5.5,-5.4 -4.0,-5.5 -2.5,-5.3 -4.8,-0.6 -3.3,-0.5 -1.8,-0.7 -6.3,-2.0 -4.8,-1.9 -3.3,-2.1 -1.8,-1.9 -0.3,-2.0 -5.6,-3.4 -4.1,-3.3 -2.6,-3.5 -1.1,-3.3 -4.8,-4.8 -3.3,-4.7",
"-3.5,6.3 -2.0,6.5 -0.5,6.2 1.0,6.4 2.5,6.1 -4.2,4.9 -2.7,5.0 -1.2,4.8 0.3,5.1 1.8,4.9 3.3,4.7 -3.6,3.5 -2.1,3.6 -0.6,3.4 0.9,3.7 2.4,3.5 3.8,3.3 -4.3,2.1 -2.8,2.2 -1.3,2.0 0.2,2.3 1.7,2.1 3.2,1.9 -3.0,0.7 -1.5,0.8 0.0,0.6 1.5,0.9 -2.9,5.6 -1.4,5.7 0.1,5.5 1.6,5.6 -3.0,4.2 -1.5,4.3 0.0,4.1 1.5,4.2 3.0,4.0 -3.6,2.8 -2.1,2.9 -0.6,2.7 0.9,2.8 2.4,2.6 -2.2,1.4 -0.7,1.5 0.8,1.3",
"0.5,0.2 2.0,0.4 3.5,0.1 1.0,-1.2 2.5,-1.0 4.0,-1.3 5.5,-1.1 7.0,-1.4 8.5,-1.2 0.3,-2.6 1.8,-2.5 3.3,-2.7 4.8,-2.4 6.3,-2.6 7.8,-2.8 9.3,-2.5 1.0,-4.0 2.5,-3.9 4.0,-4.1 5.5,-3.8 7.0,-4.0 0.5,-5.4 2.0,-5.3 3.5,-5.5 5.0,-5.2 1.2,-0.5 2.7,-0.4 4.2,-0.6 5.7,-0.5 1.0,-1.9 2.5,-1.8 4.0,-2.0 5.5,-1.9 7.0,-2.1 1.7,-3.3 3.2,-3.2 4.7,-3.4 6.2,-3.2 1.2,-4.7 2.7,-4.6 4.2,-4.8",
"5.5,7.6 7.0,7.8 8.5,7.5 4.5,6.3 6.0,6.4 7.5,6.2 9.0,6.5 10.4,6.1 3.5,4.9 5.0,5.0 6.5,4.8 8.0,5.1 9.5,4.9 11.0,4.6 3.0,3.5 4.5,3.6 6.0,3.4 7.5,3.7 9.0,3.5 10.5,3.3 3.8,2.1 5.3,2.2 6.8,2.0 8.3,2.3 9.8,2.1 5.0,0.8 6.5,0.7 8.0,0.9 9.5,0.6 6.2,7.0 7.7,6.9 5.2,5.6 6.7,5.7 8.2,5.6 9.7,5.5 4.2,4.2 5.7,4.3 7.2,4.1 8.7,4.2 10.2,4.0 4.5,2.8 6.0,2.9 7.5,2.7 9.0,2.8 5.8,1.5 7.3,1.4 8.8,1.5",
"12.2,-1.6 13.2,-2.6 12.0,-3.5 13.0,-4.4 11.8,-5.3 12.8,-6.2 11.4,-7.0 12.4,-7.8 10.2,-8.2 11.5,-9.0 9.0,-9.0 10.2,-9.8 8.0,-10.2 9.4,-10.8 7.6,-11.4 12.6,-3.0 12.4,-4.9 12.2,-6.6 11.0,-8.6 9.7,-9.4 8.7,-10.6",
"12.5,6.8 14.0,6.6 15.5,6.9 11.5,5.4 13.0,5.5 14.5,5.3 16.0,5.6 11.0,4.0 12.5,4.1 14.0,3.9 15.5,4.2 11.5,2.6 13.0,2.7 14.5,2.5 16.0,2.8 12.2,1.2 13.7,1.3 15.2,1.1 16.6,1.4 13.0,0.0 14.5,0.1 13.2,6.1 14.7,6.0 12.2,4.7 13.7,4.8 15.2,4.7 12.2,3.3 13.7,3.4 15.2,3.3 12.8,1.9 14.3,2.0 15.8,1.9 13.8,0.6",
"13.5,-8.8 15.0,-9.2 16.3,-8.9 14.2,-10.3 15.5,-10.5 12.8,-11.0",
"13.8,-0.6 15.0,-1.8 13.6,-2.5 14.8,-3.4 13.2,-4.2 16.0,0.6 17.0,1.0",
"11.5,-11.5 11.0,-13.0",
"12.8,-3.8 13.5,-5.8 12.5,-6.2",
"11.2,-12.2",
"12.8,-8.5",
"12.5,-14.3",
"13.8,-8.0",
"11.8,-10.6"
];

var panels = [
    { title: 'proj = key',   open: keyOpen,   close: keyClose,   top: 202.9, bottom: 501.0, tickLabels: false },
    { title: 'proj = query', open: queryOpen, close: queryClose, top: 649.6, bottom: 947.7, tickLabels: true }
];

function parsePoints(s) {
    return s.trim().split(/\s+/).map(function (p) {
        var v = p.split(',');
        return [+v[0], +v[1]];
    });
}

var svg = d3.select('#chart');
var x = d3.scaleLinear().domain([-34.28, 40.91]).range([98, 678]);
var minus = function (d) { return d < 0 ? '\u2212' + Math.abs(d) : String(d); };
var crossPath = d3.symbol().type(d3.symbolCross).size(84)();

panels.forEach(function (p) {
    var y = d3.scaleLinear().domain([-20, 18.6]).range([p.bottom, p.top]);
    var g = svg.append('g');

    // circles "(" first, then crosses ")"
    var open = [], close = [];
    p.open.forEach(function (s, i) {
        parsePoints(s).forEach(function (d) { open.push({ depth: i, x: d[0], y: d[1] }); });
    });
    p.close.forEach(function (s, i) {
        parsePoints(s).forEach(function (d) { close.push({ depth: i, x: d[0], y: d[1] }); });
    });

    g.selectAll('circle.pt')
        .data(open)
        .enter()
        .append('circle')
        .attr('class', 'pt')
        .attr('cx', function (d) { return x(d.x); })
        .attr('cy', function (d) { return y(d.y); })
        .attr('r', 6.1)
        .attr('fill', function (d) { return palette[d.depth]; })
        .attr('stroke', '#fff')
        .attr('stroke-width', 0.8);

    g.selectAll('path.pt')
        .data(close)
        .enter()
        .append('path')
        .attr('class', 'pt')
        .attr('d', crossPath)
        .attr('transform', function (d) { return 'translate(' + x(d.x) + ',' + y(d.y) + ') rotate(45)'; })
        .attr('fill', function (d) { return palette[d.depth]; })
        .attr('stroke', '#fff')
        .attr('stroke-width', 0.7);

    // reference lines
    g.append('line')
        .attr('x1', x(0)).attr('x2', x(0))
        .attr('y1', p.top).attr('y2', p.bottom)
        .attr('stroke', '#808080').attr('stroke-width', 2.6)
        .attr('stroke-dasharray', '10.5,4.5');
    g.append('line')
        .attr('x1', 98).attr('x2', 678)
        .attr('y1', y(0)).attr('y2', y(0))
        .attr('stroke', '#808080').attr('stroke-width', 2.6)
        .attr('stroke-dasharray', '10.5,4.5');

    // axes
    var ax = g.append('g')
        .attr('transform', 'translate(0,' + p.bottom + ')')
        .call(d3.axisBottom(x).tickValues(xTicks).tickSize(6).tickPadding(9.5)
            .tickFormat(p.tickLabels ? minus : function () { return ''; }));
    var ay = g.append('g')
        .attr('transform', 'translate(98,0)')
        .call(d3.axisLeft(y).tickValues(yTicks).tickSize(6).tickPadding(8).tickFormat(minus));
    [ax, ay].forEach(function (a) {
        a.select('.domain').attr('stroke', '#262626').attr('stroke-width', 1.25);
        a.selectAll('.tick line').attr('stroke', '#262626').attr('stroke-width', 1.25);
        a.selectAll('.tick text').attr('fill', '#262626').style('font-size', '18px')
            .style('font-family', '"DejaVu Sans", sans-serif');
    });
    ax.select('.domain').attr('d', 'M98,0H678');
    ay.select('.domain').attr('d', 'M0,' + p.top + 'V' + p.bottom);

    g.append('text')
        .attr('x', 388).attr('y', p.top - 11)
        .attr('text-anchor', 'middle')
        .style('font-size', '19.5px')
        .text(p.title);

    g.append('text')
        .attr('transform', 'translate(29,' + (p.top + p.bottom) / 2 + ') rotate(-90)')
        .attr('text-anchor', 'middle')
        .style('font-size', '19.5px')
        .text('PC 3');
});

svg.append('text')
    .attr('x', 388).attr('y', 1004)
    .attr('text-anchor', 'middle')
    .style('font-size', '19.5px')
    .text('PC 1');

// legend
var legend = svg.append('g');
var rowY = function (i) { return 206 + 29 * i; };
legend.append('text').attr('x', 706).attr('y', 183).style('font-size', '19.5px').text('depth');
depthLabels.forEach(function (lab, i) {
    legend.append('circle')
        .attr('cx', 710).attr('cy', rowY(i)).attr('r', 7)
        .attr('fill', palette[i]).attr('stroke', '#fff').attr('stroke-width', 0.75);
    legend.append('text')
        .attr('x', 747).attr('y', rowY(i) + 6.7)
        .style('font-size', '18px')
        .text(lab);
});
legend.append('text').attr('x', 706).attr('y', rowY(20) + 6).style('font-size', '19.5px').text('bracket_kind');
legend.append('circle')
    .attr('cx', 710).attr('cy', rowY(21)).attr('r', 7)
    .attr('fill', '#333').attr('stroke', '#fff').attr('stroke-width', 0.75);
legend.append('path')
    .attr('d', d3.symbol().type(d3.symbolCross).size(120)())
    .attr('transform', 'translate(710,' + rowY(22) + ') rotate(45)')
    .attr('fill', '#333').attr('stroke', '#fff').attr('stroke-width', 0.75);
bracketKinds.forEach(function (lab, i) {
    legend.append('text')
        .attr('x', 747).attr('y', rowY(21 + i) + 6.7)
        .style('font-size', '18px')
        .text(lab);
});
</script>
</body>
</html>
